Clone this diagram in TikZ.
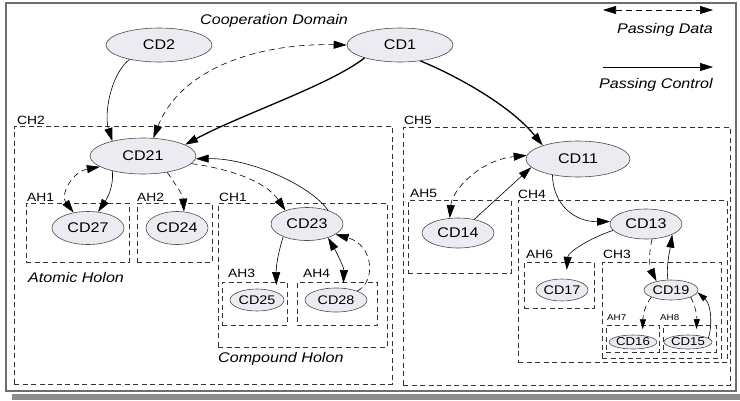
\documentclass[tikz,border=0pt]{standalone}
\usepackage{fontspec}
\setmainfont{Liberation Sans}[FakeStretch=1.15]
\usetikzlibrary{shapes.geometric,arrows.meta}
\definecolor{nodefill}{RGB}{236,235,241}
\definecolor{framegray}{RGB}{110,110,110}
\definecolor{shadowgray}{RGB}{140,140,140}
\begin{document}
\begin{tikzpicture}[x=1pt,y=-1pt,
  cd/.style={ellipse, draw=black!70, line width=0.6pt, fill=nodefill, inner sep=0pt,
             font=\fontsize{14}{15}\selectfont},
  cdsize/.style 2 args={cd, minimum width=#1pt, minimum height=#2pt},
  holon/.style={draw=black!80, line width=0.85pt, dash pattern=on 5pt off 3.5pt,
                inner sep=0pt, anchor=north west},
  hsize/.style 2 args={holon, minimum width=#1pt, minimum height=#2pt},
  lbl/.style={inner sep=0pt, anchor=base west, font=\fontsize{12}{13}\selectfont},
  note/.style={inner sep=0pt, anchor=base west, font=\itshape\fontsize{14}{16}\selectfont},
  >={Triangle[length=13pt,width=8pt]},
  smallhead/.style={>={Triangle[length=10pt,width=6pt]}},
  ctrl/.style={->, line width=0.6pt},
  ctrlboth/.style={<->, line width=0.6pt},
  data/.style={->, line width=0.6pt, dash pattern=on 6pt off 4pt},
  databoth/.style={<->, line width=0.6pt, dash pattern=on 6pt off 4pt},
  heavy/.style={line width=1.3pt}
]
\useasboundingbox (0,0) rectangle (740,400);

% outer frame and its shadow
\fill[shadowgray] (12,394) rectangle (740,400);
\draw[framegray, line width=2pt] (6,3) rectangle (736,391);

% holons (dashed boundaries)
\node[hsize={378}{258}] (ch2) at (14,126) {};
\node[hsize={327}{258}] (ch5) at (403,127) {};
\node[hsize={103}{59}] (ah1) at (26,203) {};
\node[hsize={75}{59}] (ah2) at (137,203) {};
\node[hsize={169}{144}] (ch1) at (218,203) {};
\node[hsize={65}{43}] (ah3) at (222,282) {};
\node[hsize={80}{43}] (ah4) at (297,282) {};
\node[hsize={103}{73}] (ah5) at (408,200) {};
\node[hsize={209}{162}] (ch4) at (518,200) {};
\node[hsize={70}{46}] (ah6) at (524,262) {};
\node[hsize={119}{96}] (ch3) at (602,262) {};
\node[hsize={53}{27}] (ah7) at (606,325) {};
\node[hsize={53}{27}] (ah8) at (663,325) {};

% holon labels
\node[lbl] (lch2) at (17,124) {CH2};
\node[lbl] (lch5) at (404,124) {CH5};
\node[lbl] (lah1) at (27,201) {AH1};
\node[lbl] (lah2) at (137,201) {AH2};
\node[lbl] (lch1) at (219,201) {CH1};
\node[lbl] (lah3) at (228,277) {AH3};
\node[lbl] (lah4) at (303,277) {AH4};
\node[lbl] (lah5) at (410,197) {AH5};
\node[lbl] (lch4) at (518,198) {CH4};
\node[lbl] (lah6) at (526,258) {AH6};
\node[lbl] (lch3) at (603,258) {CH3};
\node[lbl, font=\fontsize{8.5}{9}\selectfont] (lah7) at (607,320) {AH7};
\node[lbl, font=\fontsize{8.5}{9}\selectfont] (lah8) at (660,320) {AH8};

% captions
\node[note] (coop) at (200,24) {Cooperation Domain};
\node[note] (atomic) at (28,282) {Atomic Holon};
\node[note] (compound) at (218,362) {Compound Holon};
\node[note, anchor=base east] (pdata) at (713,33) {Passing Data};
\node[note, anchor=base east] (pctrl) at (713,88) {Passing Control};

% cooperation domains
\node[cdsize={106}{34}] (cd2) at (159,45) {CD2};
\node[cdsize={106}{34}] (cd1) at (400,45) {CD1};
\node[cdsize={106}{36}] (cd21) at (143,156) {CD21};
\node[cdsize={104}{36}] (cd11) at (578,159) {CD11};
\node[cdsize={72}{33}] (cd27) at (88,228) {CD27};
\node[cdsize={62}{33}] (cd24) at (177,228) {CD24};
\node[cdsize={72}{33}] (cd23) at (307,224) {CD23};
\node[cdsize={54}{22}, font=\fontsize{12.5}{14}\selectfont] (cd25) at (257,300) {CD25};
\node[cdsize={62}{24}, font=\fontsize{12.5}{14}\selectfont] (cd28) at (336,300) {CD28};
\node[cdsize={72}{30}] (cd14) at (458,233) {CD14};
\node[cdsize={72}{30}] (cd13) at (646,224) {CD13};
\node[cdsize={52}{22}, font=\fontsize{12.5}{14}\selectfont] (cd17) at (562,290) {CD17};
\node[cdsize={54}{20}, font=\fontsize{12.5}{14}\selectfont] (cd19) at (671,290) {CD19};
\node[cdsize={46}{14}, font=\fontsize{11.5}{12}\selectfont] (cd16) at (633,342) {CD16};
\node[cdsize={48}{14}, font=\fontsize{11.5}{12}\selectfont] (cd15) at (688,342) {CD15};

% top level
\draw[ctrl] (cd2.206) .. controls (110,75) and (104,115) .. (cd21.154);
\draw[databoth] (cd21.60) .. controls (180,70) and (255,43) .. (cd1.180);
\draw[ctrl, heavy] (cd1.200) .. controls (330,85) and (240,115) .. (cd21.15);
\draw[ctrl, heavy] (cd1.322) .. controls (455,75) and (510,105) .. (cd11.159);

% inside CH2
\draw[ctrl] (cd21.206) .. controls (114,188) and (106,200) .. (cd27.58);
\draw[databoth] (cd21.194) .. controls (72,172) and (60,195) .. (cd27.133);
\draw[data] (cd21.326) .. controls (176,185) and (183,195) .. (cd24.67);
\draw[data] (cd21.-9) .. controls (225,168) and (265,180) .. (cd23.148);
\draw[ctrl] (cd23.33) .. controls (310,185) and (250,158) .. (cd21.-3);
\draw[ctrl, shorten >=7pt] (cd23.208) .. controls (279,250) and (276,265) .. (cd25.22);
\draw[ctrlboth, shorten >=5pt] (cd23.327) .. controls (338,255) and (344,268) .. (cd28.59);
\draw[data] (cd28.23) .. controls (376,282) and (374,245) .. (cd23.-20);

% inside CH5
\draw[databoth] (cd14.119) .. controls (452,190) and (480,160) .. (cd11.176);
\draw[ctrl] (cd14.40) -- (cd11.190);
\draw[ctrl] (cd11.212) .. controls (553,205) and (575,222) .. (cd13.176);
\draw[ctrl, shorten >=9pt] (cd13.191) .. controls (590,238) and (568,252) .. (cd17.70);
\draw[data] (cd13.292) .. controls (648,255) and (650,268) .. (cd19.149);
\draw[ctrl] (cd19.107) .. controls (666,265) and (670,250) .. (cd13.338);
\draw[data, smallhead, shorten >=6pt] (cd19.200) .. controls (645,305) and (643,315) .. (cd16.35);
\draw[data, smallhead, shorten >=6pt] (cd19.340) .. controls (695,305) and (697,315) .. (cd15.40);
\draw[ctrl, smallhead] (cd15.11) .. controls (712,328) and (712,305) .. (cd19.-5);

% legend
\coordinate (dl) at (603,10);
\coordinate (dr) at (713,10);
\coordinate (cl) at (603,67);
\coordinate (cr) at (713,67);
\draw[databoth] (dl) -- (dr);
\draw[ctrl] (cl) -- (cr);
\end{tikzpicture}
\end{document}
